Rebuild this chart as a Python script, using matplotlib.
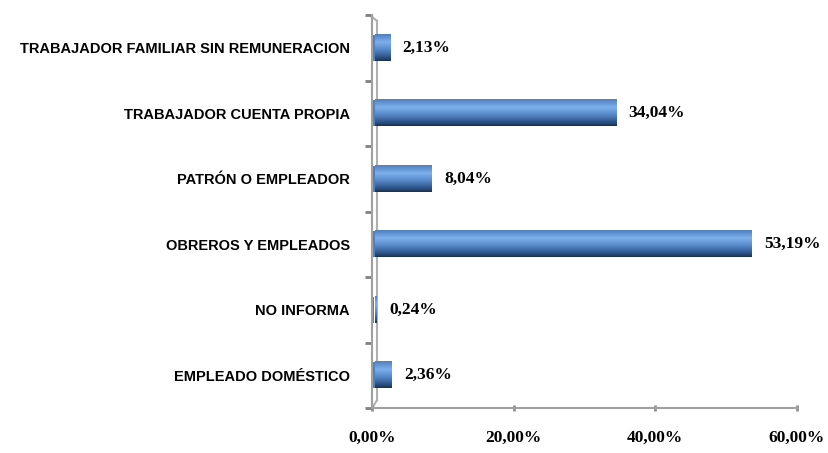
import matplotlib
matplotlib.use("Agg")
import matplotlib.pyplot as plt
import numpy as np
from matplotlib.colors import LinearSegmentedColormap

categories = ["EMPLEADO DOMÉSTICO", "NO INFORMA", "OBREROS Y EMPLEADOS",
              "PATRÓN O EMPLEADOR", "TRABAJADOR CUENTA PROPIA",
              "TRABAJADOR FAMILIAR SIN REMUNERACION"]
values = [2.36, 0.24, 53.19, 8.04, 34.04, 2.13]
value_labels = ["2,36%", "0,24%", "53,19%", "8,04%", "34,04%", "2,13%"]
xticks = [0, 20, 40, 60]
xtick_labels = ["0,00%", "20,00%", "40,00%", "60,00%"]

fig = plt.figure(figsize=(8.29, 4.53), dpi=100)
ax = fig.add_axes([372/829, 1-408/453, (797-372)/829, (408-15)/453])

y = np.arange(len(categories))
h = 0.4
cmap = LinearSegmentedColormap.from_list("cyl", [
    (0.0, "#4f80c0"), (0.3, "#7cb0ec"), (0.55, "#5a8ccc"),
    (0.8, "#35609a"), (1.0, "#1b3250")])
grad = np.linspace(0, 1, 64).reshape(-1, 1)

bars = ax.barh(y, values, height=h, color="#4f80c0", zorder=2)
for b in bars:
    x0, y0 = b.get_x(), b.get_y()
    w, hh = b.get_width(), b.get_height()
    ax.imshow(grad, cmap=cmap, aspect="auto", origin="upper",
              extent=[x0 + 0.4, x0 + 0.4 + w, y0, y0 + hh], zorder=3)

for yi, v, lab in zip(y, values, value_labels):
    ax.text(v + 2.2, yi, lab, va="center", ha="left", fontsize=12.5,
            fontweight="bold", family="Liberation Serif", color="#000000")

ax.set_xlim(0, 60)
ax.set_ylim(-0.5, len(categories) - 0.5)
ax.set_xticks(xticks)
ax.set_xticklabels(xtick_labels, fontsize=12.5, fontweight="bold",
                   family="Liberation Serif")
ax.set_yticks(y)
ax.set_yticklabels(categories, fontsize=10.5, fontweight="bold",
                   family="Liberation Sans")
ax.set_yticks(np.arange(len(categories) + 1) - 0.5, minor=True)
ax.tick_params(axis="y", which="major", length=0, pad=16)
ax.tick_params(axis="y", which="minor", length=5, color="#808080", width=2)
ax.tick_params(axis="x", length=5, color="#909090", width=2, pad=13, direction="inout")

for s in ["top", "right"]:
    ax.spines[s].set_visible(False)
for s in ["left", "bottom"]:
    ax.spines[s].set_color("#a0a0a0")
    ax.spines[s].set_linewidth(1.5)
# back wall line of the 3D frame
ax.plot([0.012, 0.012], [0.02, 0.985], transform=ax.transAxes, color="#b0b0b0",
        lw=1.5, zorder=1, clip_on=False)
ax.plot([0.0, 0.012], [0.995, 0.985], transform=ax.transAxes, color="#b0b0b0",
        lw=1.5, zorder=1, clip_on=False)
ax.plot([0.0, 0.0], [0.995, 1.0], transform=ax.transAxes, color="#a0a0a0",
        lw=1.5, zorder=1, clip_on=False)
ax.plot([0.0, 0.012], [0.0, 0.02], transform=ax.transAxes, color="#b0b0b0",
        lw=1.5, zorder=1, clip_on=False)

fig.savefig("out.png", dpi=100, facecolor="white")
